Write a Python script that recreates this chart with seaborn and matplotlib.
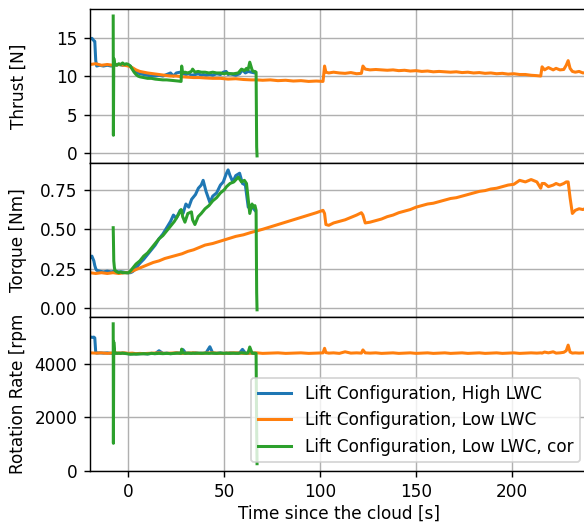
import numpy as np
import pandas as pd
import matplotlib
matplotlib.use("Agg")
import matplotlib.pyplot as plt
import seaborn as sns

# Lift Configuration, High LWC
t_high = [-20, -19, -18, -17.5, -17, -16.5, -15, -13, -11, -9,
          -7, -5, -3, -1, 0, 1, 2, 3, 4, 5,
          6, 8, 10, 12, 14, 16, 18, 20, 22, 23.5,
          25, 27, 28.5, 30, 31.5, 33, 35, 36.5, 38, 39,
          40.5, 42.5, 44, 46, 48, 49.5, 51, 52, 53, 54.5,
          56, 58, 59.5, 61, 62.5, 64, 66]
thrust_high = [14.8, 14.9, 14.6, 14.5, 12.0, 11.3, 11.4, 11.3, 11.4, 11.3,
               11.4, 11.5, 11.4, 11.5, 11.4, 11.3, 11.0, 10.7, 10.5, 10.4,
               10.3, 10.2, 10.1, 10.0, 10.0, 10.1, 10.0, 10.2, 10.4, 10.0,
               10.4, 10.5, 10.3, 10.2, 10.3, 10.1, 10.2, 10.3, 10.1, 10.2,
               10.1, 10.2, 10.1, 10.3, 10.2, 10.5, 10.6, 10.2, 10.3, 10.2,
               10.1, 10.3, 10.8, 10.4, 10.6, 10.5, 10.4]
torque_high = [0.32, 0.33, 0.30, 0.27, 0.25, 0.24, 0.235, 0.23, 0.235, 0.23,
               0.235, 0.23, 0.23, 0.225, 0.225, 0.225, 0.23, 0.24, 0.255, 0.27,
               0.285, 0.31, 0.34, 0.37, 0.40, 0.44, 0.47, 0.51, 0.55, 0.59,
               0.57, 0.62, 0.60, 0.66, 0.64, 0.69, 0.72, 0.76, 0.78, 0.81,
               0.74, 0.67, 0.71, 0.73, 0.78, 0.80, 0.85, 0.876, 0.84, 0.80,
               0.84, 0.855, 0.79, 0.78, 0.64, 0.65, 0.62]
rpm_high = [5025, 5000, 5010, 4980, 4430, 4410, 4420, 4410, 4420, 4400,
            4410, 4400, 4410, 4400, 4390, 4380, 4390, 4380, 4390, 4380,
            4390, 4390, 4380, 4400, 4390, 4500, 4400, 4410, 4390, 4400,
            4420, 4400, 4540, 4400, 4410, 4400, 4420, 4400, 4410, 4400,
            4420, 4650, 4410, 4400, 4420, 4400, 4410, 4400, 4420, 4410,
            4400, 4420, 4550, 4410, 4400, 4420, 4400]

# Lift Configuration, Low LWC
t_low = [-20, -17, -14, -11, -8, -5, -2, 0, 2, 4,
         6, 8, 10, 13, 16, 19, 22, 25, 28, 31,
         34, 37, 40, 44, 48, 52, 56, 60, 64, 67,
         70, 74, 78, 82, 86, 90, 94, 98, 101.5, 102.3,
         103, 104.5, 107, 110, 113, 116, 119, 121.5, 122.3, 123.5,
         126, 129, 132, 135, 138, 141, 144, 147, 150, 153,
         156, 159, 162, 165, 168, 171, 174, 177, 180, 183,
         186, 189, 192, 195, 198, 201, 204, 207, 210, 213,
         215, 215.7, 217, 219, 221.5, 223, 225, 227, 228.3, 229.3,
         230.3, 231.5, 233, 235, 237, 240]
thrust_low = [11.5, 11.6, 11.4, 11.5, 11.4, 11.5, 11.4, 11.3, 11.1, 10.8,
              10.6, 10.5, 10.4, 10.3, 10.2, 10.1, 10.0, 10.0, 9.9, 9.85,
              9.8, 9.8, 9.75, 9.7, 9.7, 9.6, 9.65, 9.55, 9.5, 9.5,
              9.45, 9.5, 9.4, 9.45, 9.35, 9.4, 9.3, 9.35, 9.3, 11.3,
              10.5, 10.4, 10.5, 10.4, 10.35, 10.45, 10.3, 10.35, 11.3, 10.9,
              10.8, 10.85, 10.8, 10.75, 10.8, 10.7, 10.75, 10.65, 10.7, 10.6,
              10.65, 10.55, 10.6, 10.55, 10.5, 10.55, 10.45, 10.5, 10.4, 10.45,
              10.35, 10.4, 10.3, 10.35, 10.25, 10.3, 10.2, 10.2, 10.1, 10.05,
              10.0, 11.2, 10.8, 11.1, 10.8, 11.0, 10.8, 10.85, 11.4, 12.0,
              11.0, 10.6, 10.5, 10.6, 10.4, 10.5]
torque_low = [0.225, 0.22, 0.225, 0.22, 0.225, 0.22, 0.225, 0.225, 0.235, 0.245,
              0.255, 0.265, 0.275, 0.29, 0.30, 0.315, 0.325, 0.335, 0.345, 0.36,
              0.37, 0.385, 0.40, 0.41, 0.425, 0.44, 0.455, 0.465, 0.48, 0.49,
              0.50, 0.515, 0.53, 0.545, 0.56, 0.575, 0.59, 0.605, 0.62, 0.60,
              0.53, 0.525, 0.54, 0.55, 0.56, 0.575, 0.59, 0.605, 0.59, 0.54,
              0.545, 0.555, 0.565, 0.58, 0.59, 0.605, 0.615, 0.625, 0.64, 0.65,
              0.66, 0.665, 0.675, 0.685, 0.695, 0.70, 0.71, 0.72, 0.73, 0.74,
              0.745, 0.755, 0.76, 0.77, 0.78, 0.785, 0.81, 0.80, 0.815, 0.80,
              0.76, 0.79, 0.79, 0.77, 0.78, 0.79, 0.78, 0.79, 0.80, 0.80,
              0.70, 0.60, 0.62, 0.63, 0.625, 0.64]
rpm_low = [4420, 4410, 4420, 4400, 4420, 4410, 4420, 4400, 4410, 4390,
           4400, 4390, 4400, 4410, 4420, 4400, 4410, 4420, 4400, 4410,
           4420, 4400, 4410, 4420, 4400, 4410, 4420, 4400, 4410, 4420,
           4400, 4410, 4420, 4400, 4410, 4420, 4400, 4410, 4420, 4590,
           4430, 4410, 4420, 4400, 4460, 4410, 4420, 4410, 4530, 4420,
           4410, 4420, 4400, 4410, 4420, 4400, 4410, 4420, 4400, 4410,
           4420, 4400, 4410, 4420, 4400, 4410, 4420, 4400, 4410, 4420,
           4400, 4410, 4420, 4400, 4410, 4420, 4400, 4410, 4420, 4410,
           4420, 4410, 4450, 4420, 4460, 4410, 4420, 4440, 4500, 4710,
           4450, 4410, 4420, 4410, 4420, 4410]

# Lift Configuration, Low LWC, cor
t_cor = [-7.9, -7.8, -7.6, -7.3, -7.0, -6, -5, -4, -3, -2,
         -1, 0, 1, 2, 3, 4, 5, 6, 8, 10,
         12, 14, 16, 18, 20, 22, 24, 26, 27.5, 27.8,
         28.3, 29.5, 31, 32.9, 33.5, 34.7, 36.4, 38, 40, 42,
         44, 46, 48, 50, 51.2, 53, 55, 57.3, 59, 60.5,
         61.6, 62.4, 63.3, 64.5, 65.1, 66, 66.6, 66.9, 67.1]
thrust_cor = [17.8, 2.3, 12.3, 11.8, 11.6, 11.4, 11.6, 11.5, 11.7, 11.5,
              11.6, 11.5, 11.3, 10.9, 10.5, 10.2, 10.0, 9.9, 9.8, 9.7,
              9.7, 9.6, 9.55, 9.5, 9.5, 9.45, 9.4, 9.35, 9.3, 11.3,
              10.4, 10.5, 10.4, 10.6, 10.9, 10.5, 10.6, 10.5, 10.5, 10.4,
              10.5, 10.4, 10.4, 10.3, 10.4, 10.3, 10.3, 10.4, 10.9, 10.7,
              11.0, 10.8, 11.8, 10.8, 10.6, 10.6, 10.5, 0.8, -0.38]
torque_cor = [0.51, 0.45, 0.30, 0.26, 0.24, 0.23, 0.225, 0.23, 0.225, 0.225,
              0.225, 0.224, 0.235, 0.25, 0.265, 0.28, 0.29, 0.30, 0.33, 0.35,
              0.38, 0.41, 0.44, 0.46, 0.49, 0.52, 0.55, 0.59, 0.625, 0.62,
              0.58, 0.545, 0.60, 0.61, 0.56, 0.53, 0.58, 0.60, 0.63, 0.65,
              0.68, 0.70, 0.73, 0.75, 0.77, 0.79, 0.80, 0.83, 0.80, 0.81,
              0.79, 0.70, 0.60, 0.66, 0.64, 0.65, 0.62, 0.10, -0.01]
rpm_cor = [5510, 1025, 4830, 4500, 4420, 4400, 4410, 4400, 4410, 4400,
           4390, 4380, 4370, 4370, 4380, 4370, 4380, 4380, 4390, 4380,
           4400, 4390, 4400, 4390, 4400, 4390, 4400, 4410, 4400, 4560,
           4420, 4400, 4410, 4400, 4410, 4400, 4410, 4400, 4410, 4400,
           4410, 4400, 4410, 4400, 4410, 4400, 4410, 4400, 4420, 4410,
           4400, 4420, 4640, 4410, 4400, 4410, 4400, 1500, 260]

labels = ["Lift Configuration, High LWC",
          "Lift Configuration, Low LWC",
          "Lift Configuration, Low LWC, cor"]

frames = []
for name, t, th, tq, rp in [(labels[0], t_high, thrust_high, torque_high, rpm_high),
                            (labels[1], t_low, thrust_low, torque_low, rpm_low),
                            (labels[2], t_cor, thrust_cor, torque_cor, rpm_cor)]:
    frames.append(pd.DataFrame({"time": t, "thrust": th, "torque": tq,
                                "rpm": rp, "config": name}))
df = pd.concat(frames, ignore_index=True)

palette = dict(zip(labels, sns.color_palette("tab10", 3)))

plt.rcParams["font.size"] = 9.5

fig, axes = plt.subplots(3, 1, sharex=True, figsize=(584 / 128, 524 / 128), dpi=128)
fig.subplots_adjust(left=0.1541, right=1.008, top=0.9828, bottom=0.1017, hspace=0)

cols = ["thrust", "torque", "rpm"]
ylabels = ["Thrust [N]", "Torque [Nm]", "Rotation Rate [rpm"]
for i, ax in enumerate(axes):
    sns.lineplot(data=df, x="time", y=cols[i], hue="config", palette=palette,
                 estimator=None, sort=False, ax=ax, legend=(i == 2), linewidth=1.7)
    ax.set_ylabel(ylabels[i])
    ax.set_xlabel("")
    ax.grid(True)

axes[2].legend(loc="lower right")
axes[2].set_xlabel("Time since the cloud [s]", labelpad=2)
axes[2].set_xlim(-20, 240)
fig.align_ylabels(axes)

fig.savefig("out.png", dpi=128)
